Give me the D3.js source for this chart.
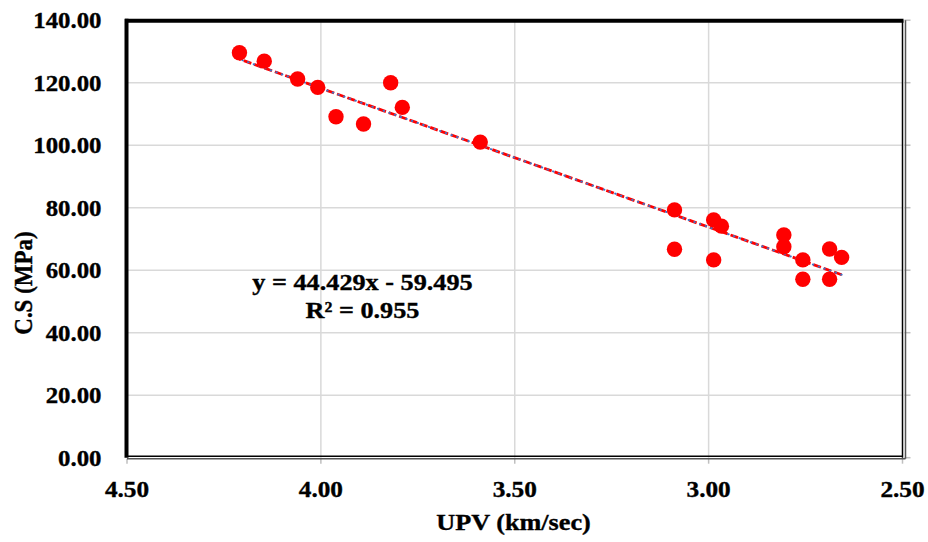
<!DOCTYPE html>
<html>
<head>
<meta charset="utf-8">
<script src="https://cdn.jsdelivr.net/npm/d3@7"></script>
<style>
  html, body { margin: 0; padding: 0; background: #fff; }
  svg { display: block; }
  text { font-family: "Liberation Serif", "Times New Roman", serif; font-weight: bold; fill: #000;
         stroke: #000; stroke-width: 0.35px; }
</style>
</head>
<body>
<div id="chart"></div>
<script>
// ---- data ----
const upv = [4.210, 4.146, 4.060, 4.008, 3.961, 3.890, 3.820, 3.790, 3.589, 3.088, 3.088,
             2.987, 2.967, 2.987, 2.806, 2.806, 2.757, 2.757, 2.688, 2.688, 2.657];
const cs  = [129.6, 126.9, 121.2, 118.5, 109.1, 106.8, 120.0, 112.1, 101.0, 79.3, 66.7,
             76.1, 74.1, 63.3, 71.3, 67.5, 63.3, 57.1, 66.8, 57.1, 64.1];
const xTicks = [4.5, 4.0, 3.5, 3.0, 2.5];
const yTicks = [0, 20, 40, 60, 80, 100, 120, 140];
const trendSlope = 44.429;
const trendIntercept = -59.495;
const equationLines = ["y = 44.429x - 59.495", "R\u00B2 = 0.955"];
const xTitle = "UPV (km/sec)";
const yTitle = "C.S (MPa)";

(function () {
// ---- layout ----
const W = 928, H = 542;
const pLeft = 127, pRight = 902.5, pTop = 20.2, pBottom = 457.7;
const svg = d3.select("#chart").append("svg").attr("width", W).attr("height", H);

const x = d3.scaleLinear().domain([4.5, 2.5]).range([pLeft, pRight]);
const y = d3.scaleLinear().domain([0, 140]).range([pBottom, pTop]);

// gridlines
svg.append("g").selectAll("line").data(yTicks.filter(d => d > 0 && d < 140)).join("line")
  .attr("x1", pLeft).attr("x2", pRight).attr("y1", d => y(d)).attr("y2", d => y(d))
  .attr("stroke", "#d9d9d9").attr("stroke-width", 1.5);
svg.append("g").selectAll("line").data(xTicks.filter(d => d < 4.5 && d > 2.5)).join("line")
  .attr("y1", pTop).attr("y2", pBottom).attr("x1", d => x(d)).attr("x2", d => x(d))
  .attr("stroke", "#d9d9d9").attr("stroke-width", 1.5);

// small outer tick marks (right & bottom)
svg.append("g").selectAll("line").data(yTicks).join("line")
  .attr("x1", pRight + 2).attr("x2", pRight + 8).attr("y1", d => y(d)).attr("y2", d => y(d))
  .attr("stroke", "#bfbfbf").attr("stroke-width", 1.5);
svg.append("g").selectAll("line").data(xTicks).join("line")
  .attr("y1", pBottom + 1).attr("y2", pBottom + 6).attr("x1", d => x(d)).attr("x2", d => x(d))
  .attr("stroke", "#bfbfbf").attr("stroke-width", 1.5);

// plot border
svg.append("line").attr("x1", pRight).attr("x2", pRight).attr("y1", pTop).attr("y2", pBottom)
  .attr("stroke", "#000").attr("stroke-width", 1.5);
svg.append("line").attr("x1", pRight + 3).attr("x2", pRight + 3).attr("y1", pTop).attr("y2", pBottom + 1)
  .attr("stroke", "#555").attr("stroke-width", 1.5);
svg.append("line").attr("x1", pLeft).attr("x2", pRight).attr("y1", pBottom - 1.5).attr("y2", pBottom - 1.5)
  .attr("stroke", "#000").attr("stroke-width", 1.5);
svg.append("line").attr("x1", pLeft).attr("x2", pRight + 3).attr("y1", pBottom + 1).attr("y2", pBottom + 1)
  .attr("stroke", "#555").attr("stroke-width", 1.5);
svg.append("line").attr("x1", pLeft - 2).attr("x2", pRight + 1).attr("y1", pTop + 0.6).attr("y2", pTop + 0.6)
  .attr("stroke", "#000").attr("stroke-width", 4);
svg.append("line").attr("x1", pLeft - 0.5).attr("x2", pLeft - 0.5).attr("y1", pTop - 1.4).attr("y2", pBottom)
  .attr("stroke", "#000").attr("stroke-width", 4);

// trendline
const xExt = d3.extent(upv);
const trendData = xExt.map(v => [v, trendSlope * v + trendIntercept]);
const line = d3.line().x(d => x(d[0])).y(d => y(d[1]));
svg.append("path").datum(trendData).attr("d", line)
  .attr("stroke", "#ff0000").attr("stroke-width", 2.8).attr("fill", "none")
  .attr("stroke-dasharray", "8,3");
svg.append("path").datum(trendData).attr("d", line)
  .attr("stroke", "#4472c4").attr("stroke-width", 2).attr("fill", "none")
  .attr("stroke-linecap", "round").attr("stroke-dasharray", "0.5,5.5");

// points
svg.append("g").selectAll("circle").data(upv.map((v, i) => [v, cs[i]])).join("circle")
  .attr("cx", d => x(d[0])).attr("cy", d => y(d[1])).attr("r", 7.7).attr("fill", "#ff0000");

// y tick labels
svg.append("g").selectAll("text").data(yTicks).join("text")
  .attr("transform", d => `translate(101.5,${y(d) + 8}) scale(1.08,1)`)
  .attr("text-anchor", "end").attr("font-size", 23)
  .text(d => d3.format(".2f")(d));

// x tick labels
svg.append("g").selectAll("text").data(xTicks).join("text")
  .attr("transform", d => `translate(${x(d)},497) scale(1.1,1)`)
  .attr("text-anchor", "middle").attr("font-size", 23)
  .text(d => d3.format(".2f")(d));

// axis titles
svg.append("text").attr("transform", "translate(513.5,530) scale(1.14,1)")
  .attr("text-anchor", "middle").attr("font-size", 23).text(xTitle);
svg.append("text").attr("transform", "translate(32,283) scale(1.14,1) rotate(-90)")
  .attr("text-anchor", "middle").attr("font-size", 23).text(yTitle);

// equation
svg.append("g").selectAll("text").data(equationLines).join("text")
  .attr("transform", (d, i) => `translate(362.5,${290 + i * 28}) scale(1.14,1)`)
  .attr("text-anchor", "middle").attr("font-size", 23).text(d => d);
})();
</script>
</body>
</html>
